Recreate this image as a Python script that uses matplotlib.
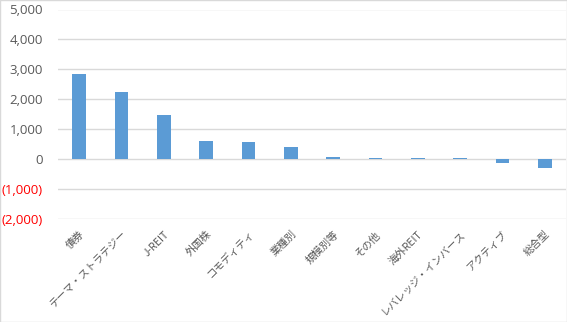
import matplotlib.pyplot as plt
from matplotlib.ticker import FuncFormatter

plt.rcParams['font.family'] = ['Noto Sans CJK JP', 'DejaVu Sans']

# カテゴリとネット資金流入額（読み取り値）
categories = ['債券', 'テーマ・ストラテジー', 'J-REIT', '外国株', 'コモディティ', '業種別',
              '規模別等', 'その他', '海外REIT', 'レバレッジ・インバース', 'アクティブ', '総合型']
values = [2840, 2245, 1475, 610, 575, 415, 75, 40, 40, 40, -115, -280]
yticks = [-2000, -1000, 0, 1000, 2000, 3000, 4000, 5000]

fig = plt.figure(figsize=(5.67, 3.22), dpi=100)
fig.patches.append(plt.Rectangle((0.0008, 0.0015), 0.9984, 0.997, transform=fig.transFigure,
                                 fill=False, edgecolor='#d9d9d9', linewidth=1))
ax = fig.add_axes([58 / 567, 1 - 219.3 / 322, 508 / 567, (219.3 - 9.5) / 322])

x = range(len(categories))
ax.bar(x, values, width=0.32, color='#5b9bd5', zorder=3)

ax.set_xlim(-0.5, len(categories) - 0.5)
ax.set_ylim(-2000, 5000)
ax.set_yticks(yticks)
ax.yaxis.set_major_formatter(FuncFormatter(
    lambda v, p: '0' if v == 0 else ('{:,.0f}'.format(v) if v > 0 else '({:,.0f})'.format(-v))))
ax.grid(axis='y', color='#d9d9d9', linewidth=1, zorder=0)
for s in ax.spines.values():
    s.set_visible(False)
ax.tick_params(length=0)
ax.tick_params(axis='y', pad=11, labelsize=9.5, labelcolor='#595959')
for lab, v in zip(ax.get_yticklabels(), yticks):
    lab.set_family(['Open Sans', 'DejaVu Sans'])
    if v < 0:
        lab.set_color('#ff0000')

ax.set_xticks(list(x))
ax.set_xticklabels(categories, rotation=45, ha='right', va='top', rotation_mode='anchor',
                   fontsize=7.5, color='#595959')
ax.tick_params(axis='x', pad=7)

fig.savefig('out.png', dpi=100)
